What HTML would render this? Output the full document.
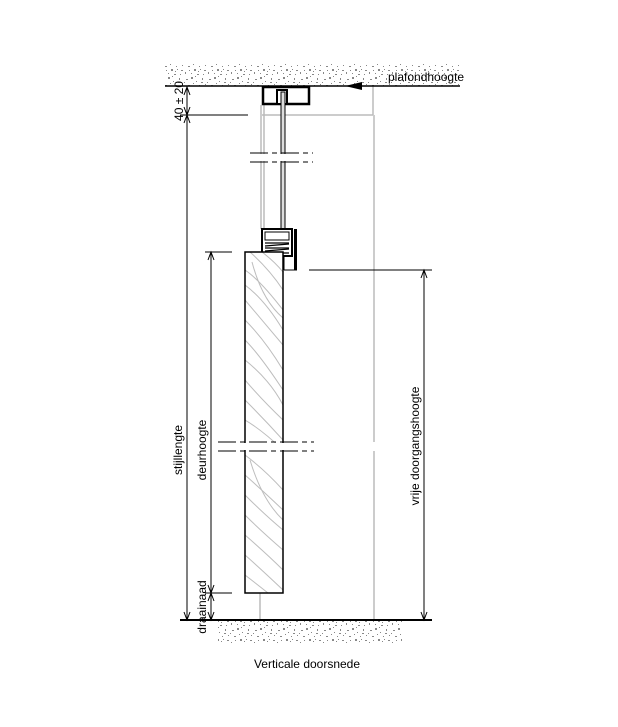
<!DOCTYPE html>
<html><head><meta charset="utf-8"><style>
html,body{margin:0;padding:0;background:#fff;}
svg{display:block;font-family:"Liberation Sans",sans-serif;}
</style></head><body>
<svg width="618" height="727" viewBox="0 0 618 727" xmlns="http://www.w3.org/2000/svg">
<defs>
<pattern id="conc" width="23" height="19" patternUnits="userSpaceOnUse">
<rect width="23" height="19" fill="#fff"/>
<g fill="#888">
<rect x="2" y="3" width="2" height="1"/><rect x="7" y="1" width="2" height="2"/><rect x="12" y="5" width="1" height="1"/>
<rect x="18" y="2" width="1" height="2"/><rect x="4" y="9" width="2" height="1"/><rect x="10" y="12" width="2" height="2"/>
<rect x="15" y="9" width="1" height="1"/><rect x="20" y="13" width="2" height="1"/><rect x="1" y="15" width="1" height="2"/>
<rect x="7" y="16" width="1" height="1"/><rect x="13" y="17" width="2" height="1"/><rect x="17" y="6" width="2" height="1"/>
<rect x="9" y="7" width="1" height="1"/><rect x="21" y="8" width="1" height="1"/><rect x="5" y="13" width="1" height="1"/>
<rect x="14" y="14" width="1" height="1"/><rect x="0" y="6" width="1" height="1"/><rect x="11" y="0" width="1" height="1"/>
<rect x="19" y="17" width="1" height="1"/><rect x="16" y="12" width="1" height="1"/>
</g></pattern>
<clipPath id="door"><rect x="245" y="252" width="38" height="341"/></clipPath>
</defs>

<rect x="165" y="64" width="295" height="22" fill="url(#conc)"/>
<rect x="218" y="621" width="184" height="22" fill="url(#conc)"/>

<g stroke="#bbb" stroke-width="1.5" fill="none">
<line x1="261" y1="105" x2="261" y2="229"/>
<line x1="264" y1="105" x2="264" y2="229"/>
<line x1="373" y1="86" x2="373" y2="115"/>
<line x1="262" y1="115" x2="373" y2="115"/>
<line x1="374" y1="115" x2="374" y2="442"/>
<line x1="374" y1="451" x2="374" y2="620"/>
<line x1="260" y1="593" x2="260" y2="620"/>
</g>

<line x1="165" y1="86" x2="460" y2="86" stroke="#000" stroke-width="1.5"/>
<line x1="180" y1="620" x2="432" y2="620" stroke="#000" stroke-width="2"/>
<polygon points="345,86 362,82 362,90" fill="#000"/>
<text x="388" y="81" font-size="12">plafondhoogte</text>

<rect x="263" y="87" width="46" height="17" fill="#fff" stroke="#000" stroke-width="2.5"/>
<rect x="277" y="90" width="10" height="14" fill="#fff" stroke="#000" stroke-width="2"/>
<rect x="281" y="92" width="4" height="140" fill="#ddd" stroke="#000" stroke-width="1"/>

<g stroke="#000" stroke-width="1" stroke-dasharray="18,4,5,4">
<line x1="250" y1="153" x2="313" y2="153"/>
<line x1="250" y1="162" x2="313" y2="162"/>
</g>
<rect x="250" y="154" width="63" height="7" fill="#fff"/>

<rect x="262" y="229" width="30" height="27" fill="#fff" stroke="#000" stroke-width="2"/>
<rect x="265" y="232" width="24" height="8" fill="#fff" stroke="#000" stroke-width="1"/>
<g stroke="#000" stroke-width="1.3">
<line x1="265" y1="243" x2="289" y2="243"/><line x1="265" y1="246" x2="289" y2="244"/>
<line x1="265" y1="248" x2="289" y2="248"/><line x1="265" y1="251" x2="289" y2="249"/>
<line x1="265" y1="253" x2="289" y2="253"/>
</g>
<rect x="294" y="229" width="3" height="41" fill="#000"/>
<line x1="284" y1="270" x2="297" y2="270" stroke="#000" stroke-width="1"/>
<line x1="284" y1="259" x2="284" y2="270" stroke="#000" stroke-width="1"/>
<rect x="262" y="256" width="22" height="3" fill="#fff" stroke="#000" stroke-width="1"/>

<rect x="245" y="252" width="38" height="341" fill="#fff"/>
<g clip-path="url(#door)" stroke="#bdbdbd" stroke-width="1" fill="none">
<path d="M245 270 Q260 280 283 310"/><path d="M245 285 Q265 300 283 330"/>
<path d="M245 300 Q262 320 283 345"/><path d="M250 252 Q270 270 283 290"/>
<path d="M262 252 Q275 262 283 272"/><path d="M245 320 Q265 340 283 370"/>
<path d="M245 340 Q260 355 283 390"/><path d="M245 360 Q270 380 283 405"/>
<path d="M245 380 Q262 400 283 420"/><path d="M245 400 Q265 420 283 440"/>
<path d="M245 420 Q262 430 283 450"/><path d="M245 455 Q265 470 283 490"/>
<path d="M245 475 Q262 490 283 510"/><path d="M245 495 Q265 515 283 530"/>
<path d="M245 515 Q260 530 283 550"/><path d="M245 535 Q268 555 283 570"/>
<path d="M245 555 Q262 570 283 590"/><path d="M245 575 Q258 585 268 593"/>
<path d="M252 262 Q262 300 283 318"/><path d="M250 460 Q262 500 283 520"/>
</g>
<rect x="245" y="252" width="38" height="341" fill="none" stroke="#000" stroke-width="1.5"/>

<rect x="218" y="443" width="100" height="7" fill="#fff"/>
<g stroke="#000" stroke-width="1" stroke-dasharray="18,4,5,4">
<line x1="218" y1="442" x2="314" y2="442"/>
<line x1="218" y1="451" x2="314" y2="451"/>
</g>

<g stroke="#000" stroke-width="1" fill="none">
<line x1="180" y1="115" x2="248" y2="115"/>
<line x1="187" y1="86" x2="187" y2="620"/>
<line x1="205" y1="252" x2="232" y2="252"/>
<line x1="205" y1="593" x2="232" y2="593"/>
<line x1="211" y1="252" x2="211" y2="620"/>
<line x1="309" y1="270" x2="432" y2="270"/>
<line x1="424" y1="270" x2="424" y2="620"/>
<path d="M184 95 L187 87 L190 95"/><path d="M184 107 L187 115 L190 107"/>
<path d="M184 123 L187 115 L190 123"/><path d="M184 612 L187 620 L190 612"/>
<path d="M208 260 L211 252 L214 260"/><path d="M208 585 L211 593 L214 585"/>
<path d="M208 601 L211 593 L214 601"/><path d="M208 612 L211 620 L214 612"/>
<path d="M421 278 L424 270 L427 278"/><path d="M421 612 L424 620 L427 612"/>
</g>

<g font-size="12" fill="#000">
<text transform="translate(183,101) rotate(-90)" text-anchor="middle">40 ± 20</text>
<text transform="translate(182,450) rotate(-90)" text-anchor="middle">stijllengte</text>
<text transform="translate(206,450) rotate(-90)" text-anchor="middle">deurhoogte</text>
<text transform="translate(206,607) rotate(-90)" text-anchor="middle">draainaad</text>
<text transform="translate(419,446) rotate(-90)" text-anchor="middle">vrije doorgangshoogte</text>
<text x="307" y="668" text-anchor="middle">Verticale doorsnede</text>
</g>
</svg>
</body></html>
